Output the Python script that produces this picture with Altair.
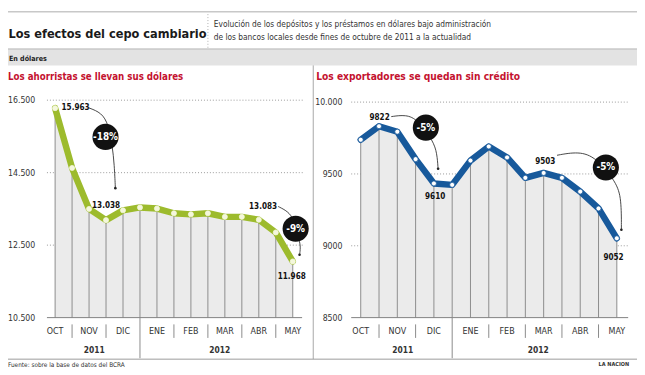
import altair as alt
import pandas as pd

# ---------------- data ----------------
months = ["OCT", "NOV", "DIC", "ENE", "FEB", "MAR", "ABR", "MAY"]
years = ["2011", "2012"]
idx = list(range(15))
depositos = [16280, 14630, 13500, 13190, 13460, 13540, 13510, 13380, 13350,
             13380, 13280, 13280, 13200, 12850, 12050]
prestamos = [9738, 9832, 9794, 9603, 9434, 9424, 9593, 9691, 9615,
             9473, 9507, 9473, 9377, 9260, 9052]
left_ticks = [10500, 12500, 14500, 16500]
left_tick_labels = ["10.500", "12.500", "14.500", "16.500"]
right_ticks = [8500, 9000, 9500, 10000]
right_tick_labels = ["8500", "9000", "9500", "10.000"]

# annotations (index, value)
left_value_labels = ["15.963", "13.038", "13.083", "11.968"]
left_value_x = [0.38, 3.0, 12.25, 13.94]
left_value_y = [16287, 13593, 13540, 11620]
left_value_align = ["left", "center", "center", "center"]
left_pct = ["-18%", "-9%"]
left_pct_x = [2.97, 14.17]
left_pct_y = [15487, 12953]
left_conn1_x = [1.99, 2.74, 3.14, 3.37, 3.49, 3.55]
left_conn1_y = [16287, 16153, 15833, 15247, 14713, 14073]
left_conn2_x = [13.14, 13.71, 14.06, 14.40, 14.46, 14.40]
left_conn2_y = [13567, 13433, 13220, 12633, 12420, 12233]

right_value_labels = ["9822", "9610", "9503", "9052"]
right_value_x = [1.03, 4.07, 10.09, 13.82]
right_value_y = [9892, 9340, 9583, 8917]
right_value_align = ["center", "center", "center", "center"]
right_pct = ["-5%", "-5%"]
right_pct_x = [3.56, 13.4]
right_pct_y = [9822, 9545]
right_conn1_x = [1.67, 2.47, 3.11, 3.96, 4.17, 4.23]
right_conn1_y = [9899, 9913, 9879, 9731, 9644, 9536]
right_conn2_x = [10.73, 11.91, 12.86, 13.98, 14.25, 14.25]
right_conn2_y = [9630, 9657, 9617, 9442, 9327, 9112]

# ---------------- layout helpers ----------------
W, H = 637, 367
SX, SY = W / 645, H / 375
FONT = "DejaVu Sans Condensed, DejaVu Sans, sans-serif"
TXT = "#333333"


def px(x):
    return round(x * SX, 2)


def py(y):
    return round(y * SY, 2)


one = pd.DataFrame({"a": [0]})


def text_at(t, x, y, size, color=TXT, weight="normal", align="left", baseline="alphabetic"):
    return alt.Chart(one).mark_text(
        text=t, font=FONT, fontSize=size, fontWeight=weight, color=color,
        align=align, baseline=baseline
    ).encode(x=alt.value(px(x)), y=alt.value(py(y)))


def rule_at(x1, y1, x2, y2, color="#999999", width=1, dash=None):
    kw = dict(color=color, strokeWidth=width)
    if dash:
        kw["strokeDash"] = dash
    return alt.Chart(one).mark_rule(**kw).encode(
        x=alt.value(px(x1)), x2=alt.value(px(x2)),
        y=alt.value(py(y1)), y2=alt.value(py(y2)))


def panel(p):
    xs = alt.Scale(domain=[0, 14], range=[px(p["x0"]), px(p["x14"])])
    ys = alt.Scale(domain=p["ydom"], range=[py(318), py(p["ytop"])], zero=False, nice=False)

    def X(f="x"):
        return alt.X(f"{f}:Q", scale=xs, axis=None)

    def Y(f="y"):
        return alt.Y(f"{f}:Q", scale=ys, axis=None)

    base = p["ydom"][0]
    series = pd.DataFrame({"x": idx, "y": p["values"], "y0": [base] * 15})
    layers = []
    # title
    layers.append(text_at(p["title"], p["title_x"], 72.5, p["title_size"], color="#c4122f", weight="bold"))
    # gridlines
    grid = pd.DataFrame({"x": [p["gx0"]] * 3, "x2": [p["gx1"]] * 3, "y": p["ticks"][1:]})
    layers.append(alt.Chart(grid).mark_rule(color="#9a9a9a", strokeWidth=1, strokeDash=[1, 2]).encode(
        x=X(), x2="x2:Q", y=Y()))
    # area
    layers.append(alt.Chart(series).mark_area(color="#ebebeb").encode(x=X(), y=Y(), y2="y0:Q"))
    layers.append(alt.Chart(series).mark_rule(color="#8c8c8c", strokeWidth=1).encode(x=X(), y=Y(), y2="y0:Q"))
    # baseline
    bl = pd.DataFrame({"x": [p["gx0"]], "x2": [p["bx1"]], "y": [base]})
    layers.append(alt.Chart(bl).mark_rule(color="#808080", strokeWidth=1).encode(x=X(), x2="x2:Q", y=Y()))
    # y labels
    yl = pd.DataFrame({"y": p["ticks"], "t": p["tick_labels"]})
    layers.append(alt.Chart(yl).mark_text(font=FONT, fontSize=8.8, color=TXT, align="right",
                                          baseline="middle").encode(
        x=alt.value(px(p["ylab_x"])), y=Y(), text="t:N"))
    # month labels
    ml = pd.DataFrame({"x": idx[::2], "t": months})
    layers.append(alt.Chart(ml).mark_text(font=FONT, fontSize=9, color=TXT, baseline="middle").encode(
        x=X(), y=alt.value(py(332)), text="t:N"))
    # separators
    sep = pd.DataFrame({"x": [1, 3, 7, 9, 11, 13]})
    layers.append(alt.Chart(sep).mark_rule(color="#8a8a8a", strokeWidth=1).encode(
        x=X(), y=alt.value(py(325)), y2=alt.value(py(339))))
    ysep = pd.DataFrame({"x": [5]})
    layers.append(alt.Chart(ysep).mark_rule(color="#8a8a8a", strokeWidth=1).encode(
        x=X(), y=alt.value(py(318)), y2=alt.value(py(360))))
    yr = pd.DataFrame({"x": [2.3, 9.7], "t": years})
    layers.append(alt.Chart(yr).mark_text(font=FONT, fontSize=8.5, fontWeight="bold", color=TXT,
                                          baseline="middle").encode(
        x=X(), y=alt.value(py(352)), text="t:N"))
    # line + points
    layers.append(alt.Chart(series).mark_line(color=p["color"], strokeWidth=6.5, strokeJoin="round",
                                              strokeCap="round").encode(x=X(), y=Y()))
    layers.append(alt.Chart(series).mark_point(filled=True, shape="circle", size=26, fill=p["pt_fill"],
                                               stroke=p["pt_stroke"], strokeWidth=0.8, opacity=1).encode(
        x=X(), y=Y()))
    # connectors
    for cx, cy in p["conns"]:
        c = pd.DataFrame({"x": cx, "y": cy, "o": list(range(len(cx)))})
        layers.append(alt.Chart(c).mark_line(interpolate="basis", color="#333333", strokeWidth=0.9).encode(
            x=X(), y=Y(), order="o:Q"))
        d = pd.DataFrame({"x": [cx[-1]], "y": [cy[-1]]})
        layers.append(alt.Chart(d).mark_circle(size=7, color="#222222", opacity=1).encode(x=X(), y=Y()))
    # pct circles
    pc = pd.DataFrame({"x": p["pct_x"], "y": p["pct_y"], "t": p["pct"]})
    layers.append(alt.Chart(pc).mark_circle(size=700, color="#111111", opacity=1).encode(x=X(), y=Y()))
    layers.append(alt.Chart(pc).mark_text(font=FONT, fontSize=10, fontWeight="bold", color="white",
                                          baseline="middle").encode(x=X(), y=Y(), text="t:N"))
    # value labels
    for t, vx, vy, al in zip(p["vl"], p["vx"], p["vy"], p["va"]):
        d = pd.DataFrame({"x": [vx], "y": [vy], "t": [t]})
        layers.append(alt.Chart(d).mark_text(font=FONT, fontSize=8.2, fontWeight="bold", color="#111111",
                                             align=al, baseline="middle").encode(x=X(), y=Y(), text="t:N"))
    return layers


left = dict(title="Los ahorristas se llevan sus dólares", title_x=0, title_size=9.8, x0=48.3, x14=292,
            ydom=[10500, 16500], ytop=93, values=depositos, ticks=left_ticks,
            tick_labels=left_tick_labels, gx0=-0.48, gx1=14.69, bx1=14.55, ylab_x=28,
            color="#9dbb2d", pt_fill="#f4f7dc", pt_stroke="#f4f7dc",
            conns=[(left_conn1_x, left_conn1_y), (left_conn2_x, left_conn2_y)],
            pct=left_pct, pct_x=left_pct_x, pct_y=left_pct_y,
            vl=left_value_labels, vx=left_value_x, vy=left_value_y, va=left_value_align)
right = dict(title="Los exportadores se quedan sin crédito", title_x=316, title_size=10.3, x0=361.7, x14=624.3,
             ydom=[8500, 10000], ytop=95, values=prestamos, ticks=right_ticks,
             tick_labels=right_tick_labels, gx0=-0.52, gx1=14.62, bx1=14.62, ylab_x=343,
             color="#17599b", pt_fill="white", pt_stroke="#17599b",
             conns=[(right_conn1_x, right_conn1_y), (right_conn2_x, right_conn2_y)],
             pct=right_pct, pct_x=right_pct_x, pct_y=right_pct_y,
             vl=right_value_labels, vx=right_value_x, vy=right_value_y, va=right_value_align)

header = [
    rule_at(0, 1.5, 645, 1.5, color="#c8c8c8", width=1.5),
    alt.Chart(one).mark_rect(color="#e3e3e3").encode(
        x=alt.value(0), x2=alt.value(px(645)), y=alt.value(py(40)), y2=alt.value(py(57))),
    rule_at(0, 40, 645, 40, color="#b5b5b5", width=1),
    rule_at(205, 4, 205, 39, color="#b0b0b0", width=1, dash=[1, 2]),
    text_at("Los efectos del cepo cambiario", 0.5, 28.5, 12.8, color="#1a1a1a", weight="bold"),
    text_at("Evolución de los depósitos y los préstamos en dólares bajo administración", 211, 17.5, 8.4),
    text_at("de los bancos locales desde fines de octubre de 2011 a la actualidad", 211, 31, 8.4),
    text_at("En dólares", 1, 52, 7.2, color="#222222", weight="bold"),
    rule_at(313, 57, 313, 361, color="#a8a8a8", width=1),
    rule_at(0, 361, 645, 361, color="#9a9a9a", width=1),
    text_at("Fuente: sobre la base de datos del BCRA", 0, 369, 6.5),
    text_at("LA NACION", 637, 368.5, 5.6, weight="bold", align="right"),
]

layers = header + panel(left) + panel(right)
chart = alt.layer(*layers).resolve_scale(x="independent", y="independent").properties(
    width=W, height=H, autosize="none", padding=0, background="white"
).configure_view(stroke=None)

chart.save("out.html", embed_options={"renderer": "svg", "actions": False})
